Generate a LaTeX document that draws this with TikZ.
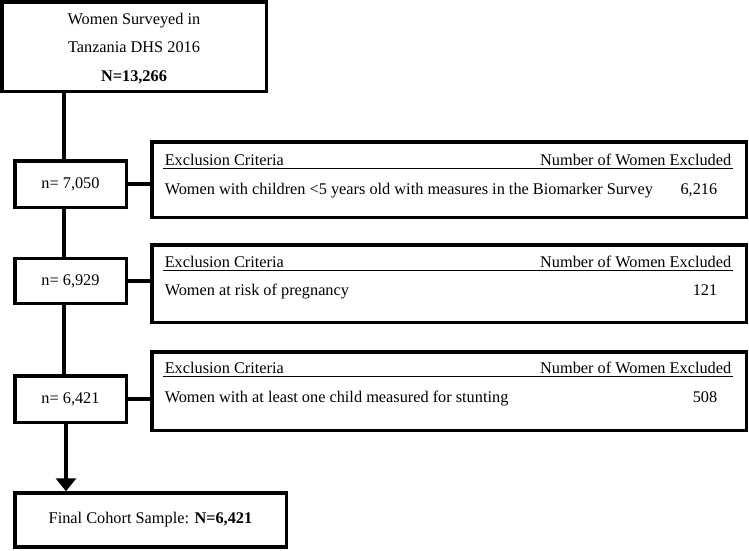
\documentclass[tikz,border=0pt]{standalone}
\usepackage{fontspec}
\setmainfont{Liberation Serif}
\usetikzlibrary{arrows.meta}

\begin{document}

\begin{tikzpicture}[x=1pt,y=-1pt,line width=3.5pt,
  every node/.style={font=\fontsize{16.3}{19}\selectfont,inner sep=0pt},
  box/.style={draw,rectangle},
  exline/.style={line width=0.8pt}]

\useasboundingbox (0,0) rectangle (749,550);

% main column
\node [box,minimum width=264.5,minimum height=89.5] (top) at (134,46.5) {};
\node [align=center,font=\fontsize{16.3}{28.5}\selectfont] (toptext) at (top.center) [yshift=-2pt] {Women Surveyed in\\Tanzania DHS 2016\\\textbf{N=13,266}};

\node [box,minimum width=111.5,minimum height=46.5] (n1) at (70.5,184) {n= 7,050};

\node [box,minimum width=111.5,minimum height=45] (n2) at (70.5,281) {n= 6,929};

\node [box,minimum width=111.5,minimum height=46.5] (n3) at (70.5,399) {n= 6,421};

\node [box,minimum width=271.5,minimum height=54] (final) at (150.5,520) {Final Cohort Sample: \textbf{N=6,421}};

\coordinate (spine) at (64,0);

\draw (spine |- top.south) -- (spine |- n1.north);

\draw (spine |- n1.south) -- (spine |- n2.north);

\draw (spine |- n2.south) -- (spine |- n3.north);

\draw [-{Triangle[width=20pt,length=13pt]}] (66,0 |- n3.south) -- (66,0 |- final.north);

% exclusion boxes
\node [box,minimum width=594.5,minimum height=75.5] (ex1) at (449,179.5) {};

\node [box,minimum width=594.5,minimum height=77.5] (ex2) at (449,283.5) {};

\node [box,minimum width=594.5,minimum height=78.5] (ex3) at (449,391) {};

\draw (n1.east) -- (n1.east -| ex1.west);

\draw (n2.east) -- (n2.east -| ex2.west);

\draw (n3.east) -- (n3.east -| ex3.west);

\node [anchor=base west] (h1) at (163,165) {Exclusion Criteria};
\node [anchor=base east] (c1) at (733,165) {Number of Women Excluded};
\draw [exline] ([yshift=-3pt]h1.base west) -- ([yshift=-3pt]c1.base east);
\node [anchor=base west] (r1) at (163,194) {Women with children <5 years old with measures in the Biomarker Survey};
\node [anchor=base east] (v1) at (719,194) {6,216};

\node [anchor=base west] (h2) at (163,267) {Exclusion Criteria};
\node [anchor=base east] (c2) at (733,267) {Number of Women Excluded};
\draw [exline] ([yshift=-3pt]h2.base west) -- ([yshift=-3pt]c2.base east);
\node [anchor=base west] (r2) at (163,295) {Women at risk of pregnancy};
\node [anchor=base east] (v2) at (719,295) {121};

\node [anchor=base west] (h3) at (163,373) {Exclusion Criteria};
\node [anchor=base east] (c3) at (733,373) {Number of Women Excluded};
\draw [exline] ([yshift=-3pt]h3.base west) -- ([yshift=-3pt]c3.base east);
\node [anchor=base west] (r3) at (163,402) {Women with at least one child measured for stunting};
\node [anchor=base east] (v3) at (719,402) {508};

\end{tikzpicture}

\end{document}
